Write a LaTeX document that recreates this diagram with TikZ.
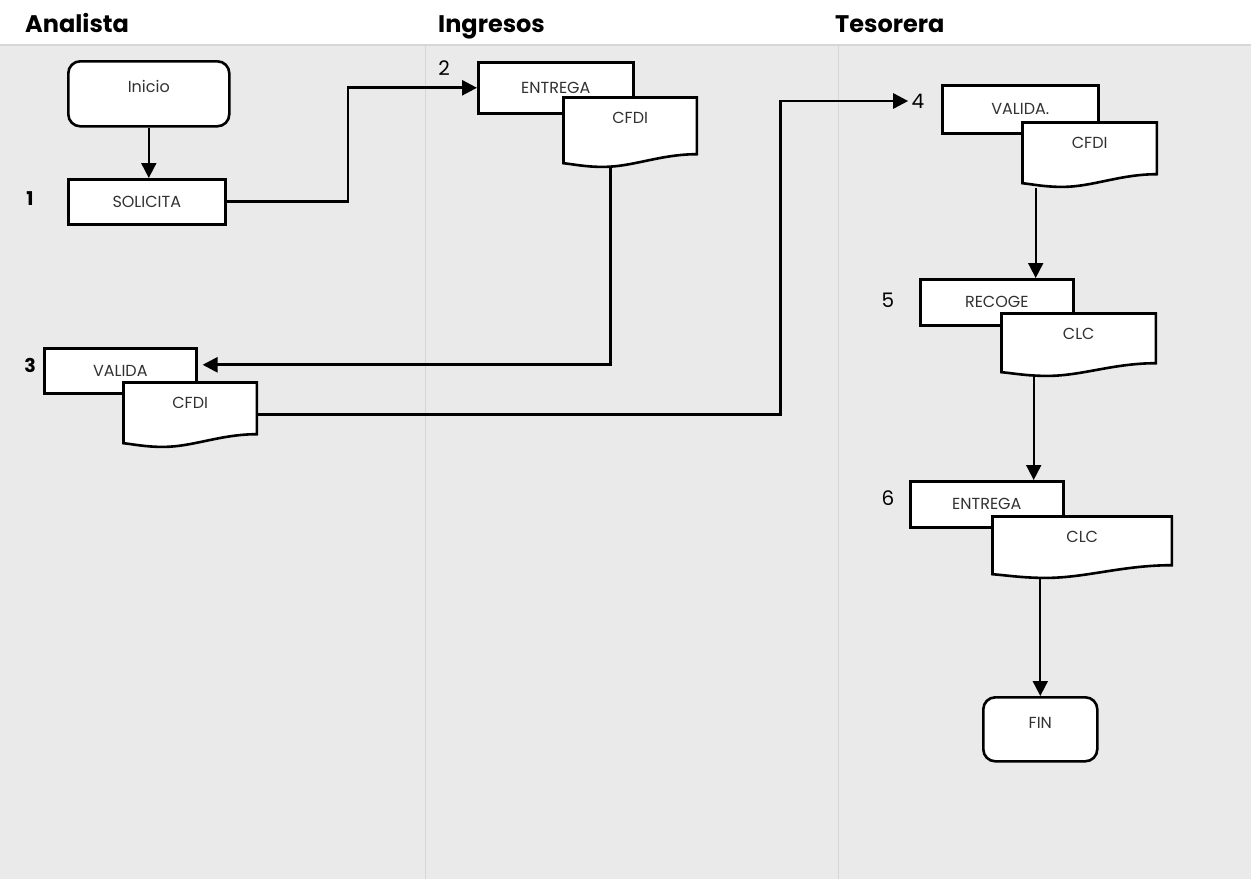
\documentclass[tikz,border=0pt]{standalone}
\usepackage{fontspec}
\setmainfont{Poppins}
\usetikzlibrary{arrows.meta}

\definecolor{paper}{RGB}{234,234,234}
\definecolor{lanegray}{RGB}{214,214,214}
\definecolor{ink}{RGB}{50,50,50}

\tikzset{
  task/.style={draw, line width=2.6pt, fill=white, anchor=north west, inner sep=0pt,
    font=\fontsize{16}{18}\selectfont, text=ink},
  term/.style={task, rounded corners=12pt, text height=11pt, text depth=13pt},
  doc/.style 2 args={anchor=north west, inner sep=0pt, minimum width=#1,
    text height=27.5pt, text depth=#2-27.5pt, font=\fontsize{16}{18}\selectfont, text=ink,
    path picture={
      \filldraw[fill=white, line width=2.6pt]
        ([shift={(1.3pt,-1.3pt)}]path picture bounding box.north west)
        -- ([shift={(#1-1.3pt,-1.3pt)}]path picture bounding box.north west)
        -- ([shift={(#1-1.3pt,-#2+14pt)}]path picture bounding box.north west)
        .. controls ([shift={(0.72*#1,-#2+14pt)}]path picture bounding box.north west)
           and ([shift={(0.52*#1,-#2+1.3pt)}]path picture bounding box.north west)
        .. ([shift={(0.3*#1,-#2+1.3pt)}]path picture bounding box.north west)
        .. controls ([shift={(0.17*#1,-#2+1.3pt)}]path picture bounding box.north west)
           and ([shift={(0.08*#1,-#2+4pt)}]path picture bounding box.north west)
        .. ([shift={(1.3pt,-#2+5pt)}]path picture bounding box.north west) -- cycle;
    }},
  head/.style={anchor=base west, inner sep=0pt, font=\bfseries\fontsize{24}{26}\selectfont},
  num/.style={font=\fontsize{20}{22}\selectfont},
  numb/.style={font=\bfseries\fontsize{19}{21}\selectfont},
  flow/.style={line width=1.8pt, -{Triangle[length=15pt,width=15pt]}},
  link/.style={line width=2.7pt, -{Triangle[length=15pt,width=15pt]}}
}

\begin{document}
\begin{tikzpicture}[x=1pt, y=-1pt]
\useasboundingbox (0,0) rectangle (1251,879);
\fill[paper] (0,45) rectangle (1251,879);
\draw[lanegray, line width=1.5pt] (0,45) -- (1251,45);
\foreach \lx in {425,838}
  \draw[lanegray, line width=1pt] (\lx,45) -- (\lx,879);

% lanes
\node[head] (hana) at (25,32) {Analista};
\node[head] (hing) at (438,32) {Ingresos};
\node[head] (htes) at (835,32) {Tesorera};

% Analista
\node[term, minimum width=161, minimum height=65] (inicio) at (67,60) {Inicio};
\node[task, minimum width=157, minimum height=45] (solicita) at (67,178) {SOLICITA};
\node[numb] (n1) at (30,199) {1};

% Ingresos
\node[task, minimum width=155, minimum height=51] (entregaA) at (477,61) {ENTREGA};
\node[num] (n2) at (444,68) {2};
\node[doc={136pt}{72pt}] (cfdiA) at (562,96) {CFDI};

% Analista again
\node[task, minimum width=152, minimum height=45] (validaA) at (43,347) {VALIDA};
\node[numb] (n3) at (30,365) {3};
\node[doc={136pt}{67pt}] (cfdiB) at (122,381) {CFDI};

% Tesorera
\node[task, minimum width=156, minimum height=48] (validaB) at (941,84) {VALIDA.};
\node[num] (n4) at (918,101) {4};
\node[doc={137pt}{67pt}] (cfdiC) at (1021,121) {CFDI};

\node[task, minimum width=153, minimum height=46] (recoge) at (919,278) {RECOGE};
\node[num] (n5) at (888,300) {5};
\node[doc={157pt}{65pt}] (clcA) at (1000,312) {CLC};

\node[task, minimum width=153, minimum height=46] (entregaB) at (909,480) {ENTREGA};
\node[num] (n6) at (888,498) {6};
\node[doc={182pt}{64pt}] (clcB) at (991,515) {CLC};

\node[term, minimum width=114, minimum height=64] (fin) at (982,696) {FIN};

% connectors
\coordinate (outC) at ([xshift=-54]cfdiC.south);
\coordinate (outD) at ([xshift=-45]clcA.south);
\draw[flow] (inicio.south) -- (inicio.south |- solicita.north);
\draw[link] (solicita.east) -| ([xshift=-129]entregaA.west) -- (entregaA.west);
\draw[link] ([xshift=-20]cfdiA.south) |- ([xshift=5,yshift=6]validaA.east);
\draw[link] (cfdiB.east) -| ([xshift=-128]n4.west) -- (n4.west);
\draw[flow] (outC) -- (outC |- recoge.north);
\draw[flow] (outD) -- (outD |- entregaB.north);
\draw[flow] (fin.north |- clcB.south) -- (fin.north);
\end{tikzpicture}
\end{document}
